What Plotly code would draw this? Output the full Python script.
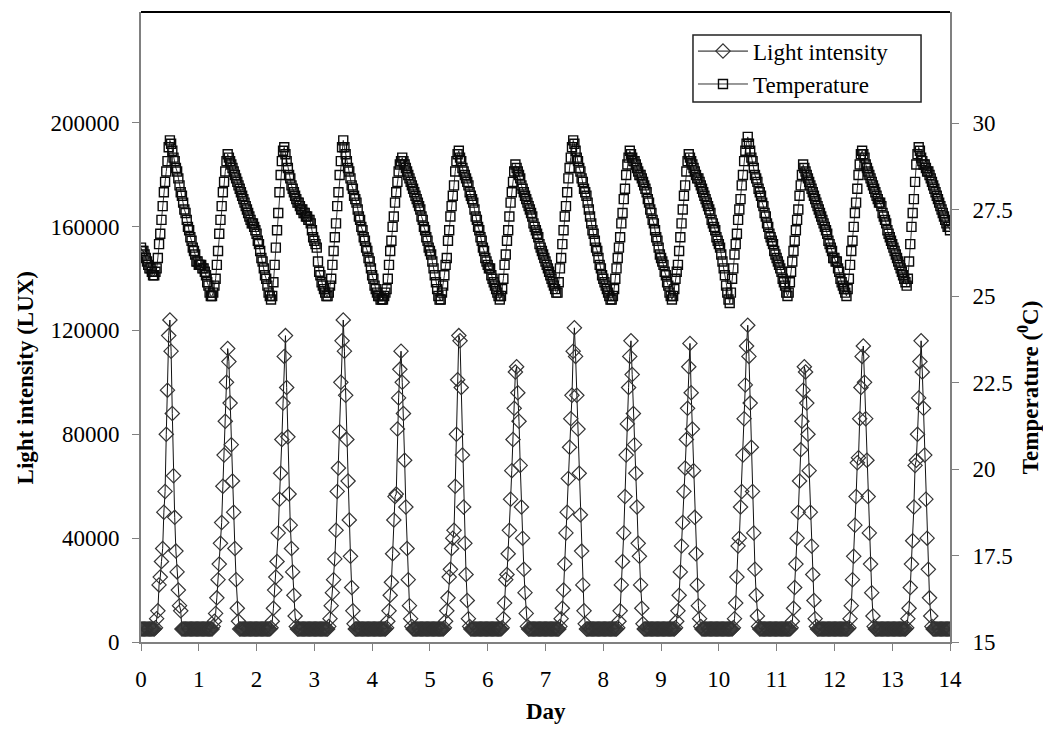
import plotly.graph_objects as go

SAMPLES_PER_DAY = 48  # half-hourly readings, day 0 .. day 14

# Light intensity (LUX), one block of 48 readings per day (00:00 .. 23:30)
LIGHT_LUX = [
    # day 0
    5000, 5000, 5000, 5000, 5000, 5000, 5000, 5000, 5000, 5000, 5000, 5000,
    5500, 9000, 12000, 22000, 25000, 31000, 36000, 50000, 58000, 80000, 97000, 118000,
    124000, 112000, 88000, 64000, 48000, 35000, 27000, 20000, 14000, 12000, 5000, 5000,
    5000, 5000, 5000, 5000, 5000, 5000, 5000, 5000, 5000, 5000, 5000, 5000,
    # day 1
    5000, 5000, 5000, 5000, 5000, 5000, 5000, 5000, 5000, 5000, 5000, 5000,
    6000, 8000, 11000, 17000, 24000, 30000, 38000, 46000, 60000, 72000, 85000, 100000,
    113000, 108000, 92000, 76000, 62000, 50000, 36000, 24000, 13000, 8000, 5000, 5000,
    5000, 5000, 5000, 5000, 5000, 5000, 5000, 5000, 5000, 5000, 5000, 5000,
    # day 2
    5000, 5000, 5000, 5000, 5000, 5000, 5000, 5000, 5000, 5000, 5000, 5000,
    5500, 8000, 13000, 20000, 25000, 31000, 42000, 55000, 65000, 78000, 92000, 110000,
    118000, 98000, 79000, 57000, 45000, 36000, 27000, 18000, 10000, 6000, 5000, 5000,
    5000, 5000, 5000, 5000, 5000, 5000, 5000, 5000, 5000, 5000, 5000, 5000,
    # day 3
    5000, 5000, 5000, 5000, 5000, 5000, 5000, 5000, 5000, 5000, 5000, 5000,
    6000, 9000, 14000, 19000, 24000, 32000, 43000, 58000, 67000, 81000, 100000, 116000,
    124000, 112000, 95000, 78000, 62000, 47000, 33000, 21000, 12000, 7000, 5000, 5000,
    5000, 5000, 5000, 5000, 5000, 5000, 5000, 5000, 5000, 5000, 5000, 5000,
    # day 4
    5000, 5000, 5000, 5000, 5000, 5000, 5000, 5000, 5000, 5000, 5000, 5000,
    5500, 8000, 12000, 18000, 23000, 34000, 47000, 56000, 57000, 82000, 94000, 105000,
    112000, 100000, 88000, 70000, 52000, 36000, 24000, 14000, 9000, 6000, 5000, 5000,
    5000, 5000, 5000, 5000, 5000, 5000, 5000, 5000, 5000, 5000, 5000, 5000,
    # day 5
    5000, 5000, 5000, 5000, 5000, 5000, 5000, 5000, 5000, 5000, 5000, 5000,
    5500, 8000, 12000, 17000, 25000, 28000, 36000, 40000, 43000, 60000, 80000, 101000,
    118000, 116000, 98000, 72000, 52000, 38000, 26000, 16000, 9000, 6000, 5000, 5000,
    5000, 5000, 5000, 5000, 5000, 5000, 5000, 5000, 5000, 5000, 5000, 5000,
    # day 6
    5000, 5000, 5000, 5000, 5000, 5000, 5000, 5000, 5000, 5000, 5000, 5000,
    5500, 9000, 15000, 24000, 26000, 34000, 43000, 55000, 66000, 78000, 90000, 104000,
    106000, 96000, 85000, 68000, 52000, 40000, 28000, 19000, 11000, 6000, 5000, 5000,
    5000, 5000, 5000, 5000, 5000, 5000, 5000, 5000, 5000, 5000, 5000, 5000,
    # day 7
    5000, 5000, 5000, 5000, 5000, 5000, 5000, 5000, 5000, 5000, 5000, 5000,
    6000, 9000, 13000, 20000, 30000, 42000, 50000, 63000, 75000, 86000, 95000, 112000,
    121000, 110000, 95000, 82000, 65000, 49000, 35000, 22000, 12000, 7000, 5000, 5000,
    5000, 5000, 5000, 5000, 5000, 5000, 5000, 5000, 5000, 5000, 5000, 5000,
    # day 8
    5000, 5000, 5000, 5000, 5000, 5000, 5000, 5000, 5000, 5000, 5000, 5000,
    5500, 8000, 12000, 22000, 31000, 42000, 56000, 72000, 84000, 98000, 110000, 116000,
    103000, 88000, 76000, 65000, 52000, 38000, 33000, 22000, 13000, 7000, 5000, 5000,
    5000, 5000, 5000, 5000, 5000, 5000, 5000, 5000, 5000, 5000, 5000, 5000,
    # day 9
    5000, 5000, 5000, 5000, 5000, 5000, 5000, 5000, 5000, 5000, 5000, 5000,
    5500, 8000, 12000, 18000, 27000, 37000, 46000, 58000, 67000, 78000, 90000, 106000,
    115000, 96000, 82000, 66000, 48000, 34000, 22000, 14000, 9000, 6000, 5000, 5000,
    5000, 5000, 5000, 5000, 5000, 5000, 5000, 5000, 5000, 5000, 5000, 5000,
    # day 10
    5000, 5000, 5000, 5000, 5000, 5000, 5000, 5000, 5000, 5000, 5000, 5000,
    5500, 9000, 15000, 25000, 37000, 40000, 52000, 58000, 72000, 86000, 99000, 114000,
    122000, 110000, 92000, 75000, 58000, 42000, 28000, 18000, 10000, 6000, 5000, 5000,
    5000, 5000, 5000, 5000, 5000, 5000, 5000, 5000, 5000, 5000, 5000, 5000,
    # day 11
    5000, 5000, 5000, 5000, 5000, 5000, 5000, 5000, 5000, 5000, 5000, 5000,
    5500, 8000, 13000, 21000, 30000, 40000, 50000, 62000, 74000, 85000, 97000, 106000,
    104000, 92000, 80000, 66000, 50000, 37000, 26000, 16000, 9000, 6000, 5000, 5000,
    5000, 5000, 5000, 5000, 5000, 5000, 5000, 5000, 5000, 5000, 5000, 5000,
    # day 12
    5000, 5000, 5000, 5000, 5000, 5000, 5000, 5000, 5000, 5000, 5000, 5000,
    5500, 9000, 14000, 24000, 33000, 45000, 56000, 69000, 71000, 86000, 98000, 110000,
    114000, 100000, 86000, 70000, 56000, 42000, 30000, 19000, 10000, 6000, 5000, 5000,
    5000, 5000, 5000, 5000, 5000, 5000, 5000, 5000, 5000, 5000, 5000, 5000,
    # day 13
    5000, 5000, 5000, 5000, 5000, 5000, 5000, 5000, 5000, 5000, 5000, 5000,
    5500, 9000, 13000, 21000, 30000, 39000, 52000, 68000, 70000, 80000, 94000, 108000,
    116000, 104000, 90000, 72000, 55000, 40000, 28000, 17000, 10000, 6000, 5000, 5000,
    5000, 5000, 5000, 5000, 5000, 5000, 5000, 5000, 5000, 5000, 5000, 5000,
    # day 14, 00:00
    5000,
]

# Temperature (deg C), same sampling
TEMP_C = [
    # day 0
    26.4, 26.3, 26.3, 26.2, 26.1, 26.0, 25.9, 25.8, 25.8, 25.7, 25.6, 25.6,
    25.7, 25.8, 26.1, 26.5, 26.8, 27.2, 27.6, 28.0, 28.3, 28.6, 28.9, 29.3,
    29.5, 29.4, 29.2, 29.0, 28.9, 28.7, 28.6, 28.4, 28.2, 28.0, 27.9, 27.7,
    27.5, 27.4, 27.2, 27.0, 26.9, 26.7, 26.6, 26.4, 26.3, 26.2, 26.0, 26.0,
    # day 1
    25.9, 25.9, 25.9, 25.8, 25.8, 25.7, 25.6, 25.4, 25.3, 25.1, 25.0, 25.0,
    25.1, 25.3, 25.5, 25.9, 26.3, 26.8, 27.2, 27.6, 28.0, 28.3, 28.6, 28.9,
    29.1, 29.0, 28.9, 28.8, 28.7, 28.6, 28.5, 28.4, 28.3, 28.2, 28.1, 28.0,
    27.9, 27.8, 27.7, 27.6, 27.5, 27.4, 27.3, 27.2, 27.1, 27.1, 27.0, 26.9,
    # day 2
    26.8, 26.6, 26.5, 26.3, 26.1, 26.0, 25.8, 25.6, 25.5, 25.3, 25.1, 25.0,
    24.9, 25.0, 25.4, 25.9, 26.4, 26.9, 27.4, 28.0, 28.5, 28.9, 29.2, 29.3,
    29.1, 28.9, 28.7, 28.5, 28.4, 28.2, 28.1, 28.0, 27.9, 27.8, 27.7, 27.7,
    27.6, 27.5, 27.5, 27.4, 27.4, 27.3, 27.3, 27.2, 27.2, 27.1, 26.9, 26.7,
    # day 3
    26.6, 26.5, 26.4, 26.0, 25.7, 25.6, 25.4, 25.3, 25.2, 25.1, 25.0, 25.0,
    25.1, 25.3, 25.5, 25.9, 26.3, 26.7, 27.1, 27.6, 28.0, 28.5, 28.9, 29.3,
    29.5, 29.3, 29.1, 28.9, 28.7, 28.6, 28.4, 28.2, 28.1, 27.9, 27.8, 27.7,
    27.5, 27.3, 27.2, 27.0, 26.9, 26.7, 26.6, 26.4, 26.3, 26.1, 26.0, 25.8,
    # day 4
    25.6, 25.5, 25.3, 25.2, 25.1, 25.0, 25.0, 24.9, 24.9, 24.9, 25.0, 25.1,
    25.2, 25.5, 25.9, 26.3, 26.6, 27.0, 27.3, 27.7, 28.0, 28.3, 28.6, 28.8,
    28.9, 29.0, 28.9, 28.8, 28.7, 28.6, 28.5, 28.4, 28.3, 28.2, 28.1, 28.0,
    27.9, 27.8, 27.7, 27.6, 27.5, 27.3, 27.2, 27.0, 26.9, 26.7, 26.6, 26.4,
    # day 5
    26.3, 26.2, 26.0, 25.8, 25.6, 25.4, 25.2, 25.0, 24.9, 24.9, 25.1, 25.3,
    25.6, 25.9, 26.1, 26.6, 26.9, 27.3, 27.6, 27.9, 28.2, 28.6, 28.9, 29.1,
    29.2, 29.0, 28.9, 28.7, 28.6, 28.5, 28.4, 28.3, 28.2, 28.0, 27.9, 27.8,
    27.7, 27.5, 27.3, 27.2, 27.0, 26.9, 26.7, 26.6, 26.4, 26.3, 26.1, 26.0,
    # day 6
    25.9, 25.8, 25.8, 25.6, 25.5, 25.4, 25.3, 25.2, 25.1, 25.0, 24.9, 25.0,
    25.2, 25.5, 25.9, 26.2, 26.6, 26.9, 27.3, 27.7, 28.0, 28.3, 28.6, 28.8,
    28.7, 28.6, 28.5, 28.4, 28.2, 28.1, 28.0, 27.9, 27.8, 27.7, 27.6, 27.5,
    27.4, 27.3, 27.1, 27.0, 26.9, 26.8, 26.7, 26.5, 26.4, 26.3, 26.2, 26.1,
    # day 7
    26.0, 25.9, 25.8, 25.7, 25.6, 25.5, 25.4, 25.3, 25.2, 25.1, 25.1, 25.4,
    25.8, 26.1, 26.5, 26.9, 27.3, 27.6, 28.0, 28.4, 28.7, 29.0, 29.3, 29.5,
    29.4, 29.2, 29.0, 28.9, 28.7, 28.6, 28.4, 28.3, 28.1, 28.0, 27.9, 27.7,
    27.5, 27.3, 27.1, 26.9, 26.8, 26.6, 26.4, 26.3, 26.1, 25.9, 25.8, 25.6,
    # day 8
    25.5, 25.4, 25.3, 25.2, 25.1, 25.0, 24.9, 24.9, 25.0, 25.2, 25.5, 25.8,
    26.1, 26.4, 26.7, 27.1, 27.4, 27.8, 28.1, 28.5, 28.8, 29.0, 29.2, 29.1,
    29.0, 28.9, 28.9, 28.8, 28.7, 28.6, 28.5, 28.5, 28.4, 28.3, 28.2, 28.1,
    28.0, 27.8, 27.7, 27.5, 27.4, 27.2, 27.1, 26.9, 26.7, 26.6, 26.4, 26.2,
    # day 9
    26.1, 26.0, 25.9, 25.7, 25.6, 25.4, 25.3, 25.1, 25.0, 24.9, 25.0, 25.2,
    25.5, 25.7, 25.9, 26.3, 26.7, 27.1, 27.5, 27.9, 28.2, 28.6, 28.9, 29.1,
    29.0, 28.9, 28.8, 28.7, 28.6, 28.5, 28.4, 28.4, 28.3, 28.2, 28.1, 28.0,
    27.9, 27.8, 27.7, 27.6, 27.5, 27.4, 27.2, 27.1, 27.0, 26.9, 26.7, 26.6,
    # day 10
    26.5, 26.4, 26.2, 26.0, 25.8, 25.6, 25.3, 25.1, 24.9, 24.8, 25.1, 25.5,
    25.8, 26.2, 26.5, 26.8, 27.2, 27.5, 27.8, 28.2, 28.5, 28.9, 29.2, 29.4,
    29.6, 29.4, 29.2, 29.0, 28.9, 28.7, 28.5, 28.4, 28.3, 28.1, 28.0, 27.9,
    27.7, 27.6, 27.4, 27.3, 27.1, 27.0, 26.8, 26.7, 26.6, 26.5, 26.3, 26.2,
    # day 11
    26.1, 26.0, 25.9, 25.8, 25.7, 25.5, 25.4, 25.3, 25.1, 25.0, 25.1, 25.4,
    25.7, 26.0, 26.3, 26.6, 26.9, 27.2, 27.5, 27.9, 28.2, 28.5, 28.8, 28.7,
    28.6, 28.5, 28.4, 28.3, 28.2, 28.1, 28.0, 27.9, 27.8, 27.7, 27.6, 27.5,
    27.4, 27.3, 27.2, 27.1, 27.0, 26.9, 26.8, 26.6, 26.5, 26.4, 26.3, 26.1,
    # day 12
    26.1, 26.0, 26.0, 25.8, 25.7, 25.5, 25.4, 25.3, 25.2, 25.1, 25.0, 25.2,
    25.5, 25.9, 26.3, 26.6, 27.0, 27.4, 27.7, 28.1, 28.5, 28.8, 29.1, 29.2,
    29.1, 29.0, 28.8, 28.7, 28.6, 28.5, 28.4, 28.3, 28.2, 28.1, 28.0, 27.9,
    27.8, 27.7, 27.7, 27.6, 27.4, 27.3, 27.2, 27.1, 26.9, 26.8, 26.7, 26.6,
    # day 13
    26.5, 26.4, 26.3, 26.2, 26.1, 26.0, 25.9, 25.8, 25.7, 25.6, 25.5, 25.4,
    25.3, 25.5, 26.0, 26.5, 27.0, 27.4, 27.8, 28.3, 28.8, 29.1, 29.3, 29.2,
    29.0, 28.9, 28.8, 28.8, 28.7, 28.6, 28.6, 28.5, 28.4, 28.3, 28.2, 28.1,
    28.0, 27.9, 27.8, 27.7, 27.6, 27.5, 27.4, 27.3, 27.2, 27.1, 27.0, 27.0,
    # day 14, 00:00
    26.9,
]

DAY = [i / SAMPLES_PER_DAY for i in range(len(TEMP_C))]

X_TICKS = list(range(0, 15))
LUX_TICKS = [0, 40000, 80000, 120000, 160000, 200000]
TEMP_TICKS = [15, 17.5, 20, 22.5, 25, 27.5, 30]
TEMP_TICK_TEXT = ["15", "17.5", "20", "22.5", "25", "27.5", "30"]

FONT = "Liberation Serif, Times New Roman, serif"
AXIS_GREY = "#808080"

# page body adds an 8 px offset; figure sized so the plot sits where the reference's does
FIG_W, FIG_H = 1043, 721

fig = go.Figure()
fig.add_trace(go.Scatter(
    x=DAY, y=LIGHT_LUX, name="Light intensity", mode="lines+markers",
    line=dict(color="#111111", width=1),
    marker=dict(symbol="diamond-open", size=11, color="#333333", line=dict(width=1.2)),
    yaxis="y",
))
fig.add_trace(go.Scatter(
    x=DAY, y=TEMP_C, name="Temperature", mode="lines+markers",
    line=dict(color="#333333", width=1),
    marker=dict(symbol="square-open", size=9, color="#0a0a0a", line=dict(width=1.4)),
    yaxis="y2",
))

tick_font = dict(family=FONT, size=23, color="black")
fig.update_layout(
    width=FIG_W, height=FIG_H,
    margin=dict(l=133, r=101, t=4, b=87),
    paper_bgcolor="white", plot_bgcolor="white",
    font=dict(family=FONT, color="black"),
    showlegend=True,
    legend=dict(
        x=0.6823, y=0.972, xanchor="left", yanchor="top",
        bgcolor="rgba(0,0,0,0)", borderwidth=0,
        font=dict(family=FONT, size=23, color="black"),
        itemwidth=50, tracegroupgap=0,
    ),
    xaxis=dict(
        range=[0, 14], tickvals=X_TICKS, ticks="outside", ticklen=7,
        tickcolor=AXIS_GREY, tickwidth=1, showline=True, linecolor=AXIS_GREY,
        linewidth=2, showgrid=False, zeroline=False, tickfont=tick_font,
        ticklabelstandoff=8,
    ),
    yaxis=dict(
        range=[0, 242630], tickvals=LUX_TICKS, tickformat="d", ticks="outside",
        ticklen=7, tickcolor=AXIS_GREY, tickwidth=1, showline=True,
        linecolor=AXIS_GREY, linewidth=2, showgrid=False, zeroline=False,
        tickfont=tick_font, ticklabelstandoff=8,
    ),
    yaxis2=dict(
        range=[15, 33.21], tickvals=TEMP_TICKS, ticktext=TEMP_TICK_TEXT,
        overlaying="y", side="right", ticks="outside", ticklen=7,
        tickcolor=AXIS_GREY, tickwidth=1, showline=True, linecolor=AXIS_GREY,
        linewidth=2, showgrid=False, zeroline=False, tickfont=tick_font,
        ticklabelstandoff=9,
    ),
    shapes=[
        dict(type="line", xref="paper", yref="paper", x0=0, x1=1, y0=1, y1=1,
             line=dict(color="black", width=2)),
        # legend frame
        dict(type="rect", xref="paper", yref="paper",
             x0=0.6823, x1=0.9642, y0=0.8571, y1=0.9635, layer="above",
             fillcolor="rgba(0,0,0,0)", line=dict(color="#222222", width=1.5)),
    ],
    annotations=[
        dict(text="<b>Light intensity (LUX)</b>", xref="paper", yref="paper",
             x=-0.1434, y=0.42, xanchor="center", yanchor="middle",
             textangle=-90, showarrow=False,
             font=dict(family=FONT, size=23, color="black")),
        dict(text="<b>Temperature (<sup>0</sup>C)</b>", xref="paper", yref="paper",
             x=1.098, y=0.405, xanchor="center", yanchor="middle",
             textangle=-90, showarrow=False,
             font=dict(family=FONT, size=23, color="black")),
        dict(text="<b>Day</b>", xref="paper", yref="paper",
             x=0.5, y=-0.111, xanchor="center", yanchor="middle", showarrow=False,
             font=dict(family=FONT, size=23, color="black")),
    ],
)

fig.write_html("out.html")
